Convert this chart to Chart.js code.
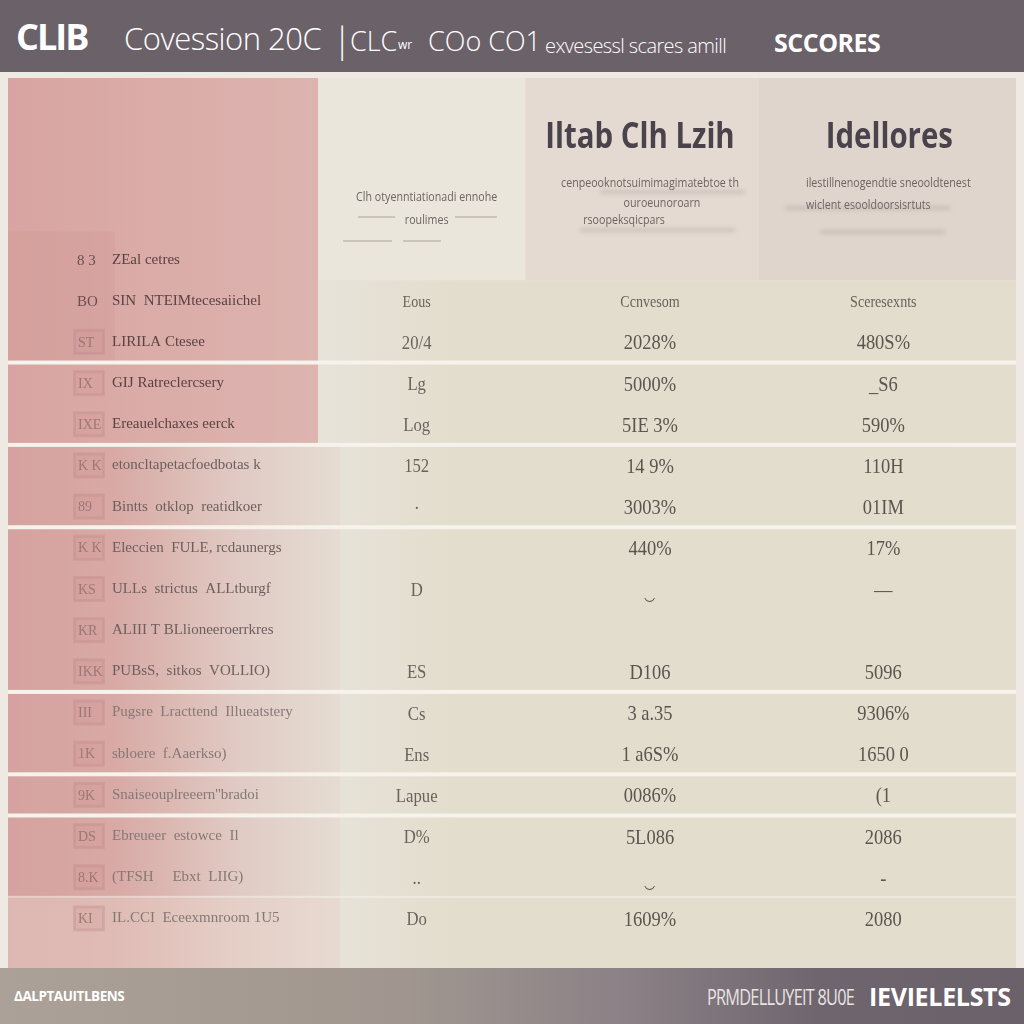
<!DOCTYPE html>
<html>
<head>
<meta charset="utf-8">
<script src="https://cdn.jsdelivr.net/npm/chart.js@4.4.1/dist/chart.umd.min.js"></script>
<style>
html, body { margin: 0; padding: 0; width: 1024px; height: 1024px; overflow: hidden; background: #efe9e3; }
#head { height: 72px; background: #6b6169; color: #fff; white-space: nowrap; position: relative;
  font-family: "Open Sans", "DejaVu Sans", sans-serif; }
#head span { position: absolute; bottom: 13px; }
#wrap { width: 1024px; height: 896px; }
#foot { height: 56px; position: relative; color: #fff; white-space: nowrap;
  background: linear-gradient(90deg, #aba198 0%, #a0968f 40%, #8c8287 60%, #6f656e 80%, #6b616a 100%);
  font-family: "Open Sans", "DejaVu Sans", sans-serif; }
#foot span { position: absolute; display: inline-block; transform-origin: left center; }
</style>
</head>
<body>
<div id="head">
  <span style="left:16px;font-size:36px;font-weight:bold;letter-spacing:-2px;bottom:11px;">CLIB</span>
  <span style="left:124px;font-size:31px;font-weight:300;letter-spacing:-0.5px;">Covession 20C</span>
  <span style="left:333px;font-size:34px;font-weight:300;bottom:9px;">|</span>
  <span style="left:350px;font-size:27px;font-weight:300;">CLC</span>
  <span style="left:398px;font-size:12px;bottom:19px;">wr</span>
  <span style="left:428px;font-size:27px;font-weight:300;">COo CO1</span>
  <span style="left:545px;font-size:20px;font-weight:300;letter-spacing:-0.6px;">exvesessl scares amill</span>
  <span style="left:774px;font-size:25px;font-weight:bold;letter-spacing:-0.5px;">SCCORES</span>
</div>
<div id="wrap"><canvas id="tableChart" width="1024" height="896" style="width:1024px;height:896px;display:block;"></canvas></div>
<div id="foot">
  <span style="left:14px;top:17px;font-size:15px;font-weight:bold;letter-spacing:-0.5px;transform:scaleX(0.9);">&#916;ALPTAUITLBENS</span>
  <span style="left:707px;top:13px;font-size:22px;color:#e9e4e2;letter-spacing:-1px;transform:scaleX(0.74);">PRMDELLUYEIT 8U0E</span>
  <span style="left:869px;top:11px;font-size:25px;font-weight:bold;letter-spacing:-0.3px;transform:scaleX(1.0);">IEVIELELSTS</span>
</div>

<script>
// table content
const columns = ['Eous', 'Ccnvesom', 'Sceresexnts'];
const columnTitles = ['', 'Iltab Clh Lzih', 'Idellores'];
const columnNotes = [
    ['Clh otyenntiationadi ennohe', 'roulimes'],
    ['cenpeooknotsuimimagimatebtoe th', 'ouroeunoroarn', 'rsoopeksqicpars'],
    ['ilestillnenogendtie sneooldtenest', 'wiclent esooldoorsisrtuts']
];

const rowCodes = ['8 3', 'BO', 'ST', 'IX', 'IXE', 'K K', '89', 'K K', 'KS', 'KR', 'IKK', 'III', '1K', '9K', 'DS', '8.K', 'KI'];
const rowNames = [
    'ZEal cetres',
    'SIN  NTEIMtecesaiichel',
    'LIRILA Ctesee',
    'GIJ Ratreclercsery',
    'Ereauelchaxes eerck',
    'etoncltapetacfoedbotas k',
    'Bintts  otklop  reatidkoer',
    'Eleccien  FULE, rcdaunergs',
    'ULLs  strictus  ALLtburgf',
    'ALIII T BLlioneeroerrkres',
    'PUBsS,  sitkos  VOLLIO)',
    'Pugsre  Lracttend  Illueatstery',
    'sbloere  f.Aaerkso)',
    "Snaiseouplreeern''bradoi",
    'Ebreueer  estowce  Il',
    '(TFSH     Ebxt  LIIG)',
    'IL.CCI  Eceexmnroom 1U5'
];

const colEous   = ['', 'Eous', '20/4', 'Lg', 'Log', '152', '\u00b7', '', 'D', '', 'ES', 'Cs', 'Ens', 'Lapue', 'D%', '..', 'Do'];
const colConv   = ['', 'Ccnvesom', '2028%', '5000%', '5IE 3%', '14 9%', '3003%', '440%', '\u203f', '', 'D106', '3 a.35', '1 a6S%', '0086%', '5L086', '\u203f', '1609%'];
const colScores = ['', 'Sceresexnts', '480S%', '_S6', '590%', '110H', '01IM', '17%', '\u2014', '', '5096', '9306%', '1650 0', '(1', '2086', '-', '2080'];

// rows after which a white divider runs across the table
const dividerAfter = [2, 4, 6, 10, 12, 13, 15];

function cells(values, col) {
    return values
        .map((t, i) => ({ x: columns[col], y: rowNames[i], t: t }))
        .filter(p => p.t !== '');
}

const SERIF = '"Liberation Serif", "DejaVu Serif", serif';
const SANS = '"Open Sans", "DejaVu Sans", sans-serif';

function rowEdge(y, i) {
    return (y.getPixelForValue(i) + y.getPixelForValue(i + 1)) / 2;
}

// squeezed text, the picture uses narrow faces
function narrowText(c, t, x, y, sx) {
    c.save();
    c.translate(x, y);
    c.scale(sx, 1);
    c.fillText(t, 0, 0);
    c.restore();
}

const backdrop = {
    id: 'backdrop',
    beforeDraw(chart) {
        const c = chart.ctx, y = chart.scales.y, x = chart.scales.x;
        const H = chart.height;
        const headBottom = rowEdge(y, 0);
        const split = rowEdge(y, 4);
        c.save();
        c.fillStyle = '#efe9e3';
        c.fillRect(0, 0, chart.width, H);

        // right part: header panels and body
        c.fillStyle = '#ebe6dc';
        c.fillRect(318, 6, 698, headBottom - 6);
        const colW = x.getPixelForValue(1) - x.getPixelForValue(0);
        c.fillStyle = '#e4dad2';
        c.fillRect(x.getPixelForValue(1) - colW / 2 - 8, 6, colW, headBottom - 6);
        c.fillStyle = '#dfd5cd';
        c.fillRect(x.getPixelForValue(2) - colW / 2 - 8, 6, 1016 - (x.getPixelForValue(2) - colW / 2 - 8), headBottom - 6);
        let g = c.createLinearGradient(318, 0, 1016, 0);
        g.addColorStop(0, '#e8e3d9');
        g.addColorStop(0.2, '#e3ddcd');
        g.addColorStop(1, '#e2ddcc');
        c.fillStyle = g;
        c.fillRect(318, headBottom, 698, H - headBottom);

        // left pink column
        g = c.createLinearGradient(8, 0, 318, 0);
        g.addColorStop(0, '#d8a4a1');
        g.addColorStop(1, '#ddb4af');
        c.fillStyle = g;
        c.fillRect(8, 6, 310, split - 6);
        g = c.createLinearGradient(8, 0, 340, 0);
        g.addColorStop(0, '#d5a29f');
        g.addColorStop(0.32, '#d8a9a5');
        g.addColorStop(0.7, '#e1cbc4');
        g.addColorStop(1, '#e5dcd2');
        c.fillStyle = g;
        c.fillRect(8, split, 332, H - split);
        c.fillStyle = 'rgba(236, 214, 204, 0.4)';
        c.fillRect(8, rowEdge(y, 15), 332, H - rowEdge(y, 15));
        c.fillStyle = 'rgba(190, 120, 118, 0.10)';
        c.fillRect(8, y.getPixelForValue(0) - 28, 107, rowEdge(y, 2) - y.getPixelForValue(0) + 28);

        // dividers
        dividerAfter.forEach(i => {
            const yy = rowEdge(y, i);
            c.fillStyle = i === 15 ? 'rgba(246, 242, 236, 0.55)' : '#f6f2ec';
            c.fillRect(8, yy - 2, 1008, i === 15 ? 2 : 4);
        });
        c.restore();
    },
    afterDatasetsDraw(chart) {
        const c = chart.ctx, y = chart.scales.y, x = chart.scales.x;
        c.save();

        // column titles and notes in the header
        c.textAlign = 'center';
        c.textBaseline = 'middle';
        const titleDx = [0, -10, 6];
        columnTitles.forEach((t, i) => {
            if (!t) return;
            c.fillStyle = '#4b434b';
            c.font = 'bold 35px ' + SANS;
            narrowText(c, t, x.getPixelForValue(i) + titleDx[i], 66, 0.84);
        });
        const noteY = [[125, 148], [111, 131, 148], [111, 133]];
        const noteDx = [[10, 10], [0, 12, -26], [5, -15]];
        columnNotes.forEach((lines, i) => {
            lines.forEach((t, k) => {
                c.fillStyle = '#6d6463';
                c.font = '13px ' + SANS;
                narrowText(c, t, x.getPixelForValue(i) + noteDx[i][k], noteY[i][k], 0.82);
            });
        });
        c.strokeStyle = 'rgba(120, 110, 105, 0.55)';
        c.lineWidth = 1;
        [[358, 395, 145], [455, 497, 145], [343, 392, 169], [403, 441, 169]].forEach(s => {
            c.beginPath(); c.moveTo(s[0], s[2]); c.lineTo(s[1], s[2]); c.stroke();
        });
        c.filter = 'blur(2px)';
        c.strokeStyle = 'rgba(150, 135, 130, 0.35)';
        c.lineWidth = 3;
        [[580, 735, 158], [785, 950, 136], [600, 745, 120], [820, 945, 160]].forEach(s => {
            c.beginPath(); c.moveTo(s[0], s[2]); c.lineTo(s[1], s[2]); c.stroke();
        });
        c.filter = 'none';

        // row codes in faint boxes
        c.textAlign = 'left';
        rowCodes.forEach((code, i) => {
            const yy = y.getPixelForValue(i);
            if (i >= 2) {
                c.fillStyle = 'rgba(205, 140, 140, 0.18)';
                c.fillRect(74, yy - 12, 30, 24);
                c.strokeStyle = 'rgba(185, 135, 135, 0.3)';
                c.strokeRect(74.5, yy - 11.5, 29, 23);
            }
            c.fillStyle = i < 2 ? '#6b5050' : 'rgba(140, 110, 108, 0.8)';
            c.font = (i < 2 ? '15px ' : '14px ') + SERIF;
            c.fillText(code, i < 2 ? 77 : 78, yy + 1);
        });

        // cell values
        c.textAlign = 'center';
        chart.data.datasets.forEach((ds, d) => {
            const meta = chart.getDatasetMeta(d);
            meta.data.forEach((pt, i) => {
                const p = ds.data[i];
                const head = p.y === rowNames[1];
                c.fillStyle = head ? '#6a625c' : (d === 0 ? '#6a625e' : '#5b544f');
                c.font = (head ? '16px ' : d === 0 ? '19px ' : '21px ') + SERIF;
                narrowText(c, p.t, pt.x, pt.y + 2, 0.88);
            });
        });
        c.restore();
    }
};

const ctx = document.getElementById('tableChart').getContext('2d');
const tableChart = new Chart(ctx, {
    type: 'scatter',
    data: {
        datasets: [
            { label: columns[0], data: cells(colEous, 0) },
            { label: columns[1], data: cells(colConv, 1) },
            { label: columns[2], data: cells(colScores, 2) }
        ]
    },
    options: {
        responsive: false,
        animation: false,
        layout: { padding: { left: 112, right: 24, top: 167, bottom: 29 } },
        elements: { point: { radius: 0, hoverRadius: 0 } },
        plugins: { legend: { display: false }, tooltip: { enabled: false } },
        scales: {
            x: { type: 'category', labels: columns, offset: true, display: false },
            y: {
                type: 'category',
                labels: rowNames,
                offset: true,
                grid: { display: false },
                border: { display: false },
                afterFit(scale) { scale.width = 188; },
                ticks: {
                    autoSkip: false,
                    crossAlign: 'far',
                    padding: 0,
                    font: { family: SERIF, size: 15 },
                    color: c => c.index < 5 ? '#5a4343' : (c.index < 11 ? '#6c5f5d' : '#857976')
                }
            }
        }
    },
    plugins: [backdrop]
});
</script>
</body>
</html>
